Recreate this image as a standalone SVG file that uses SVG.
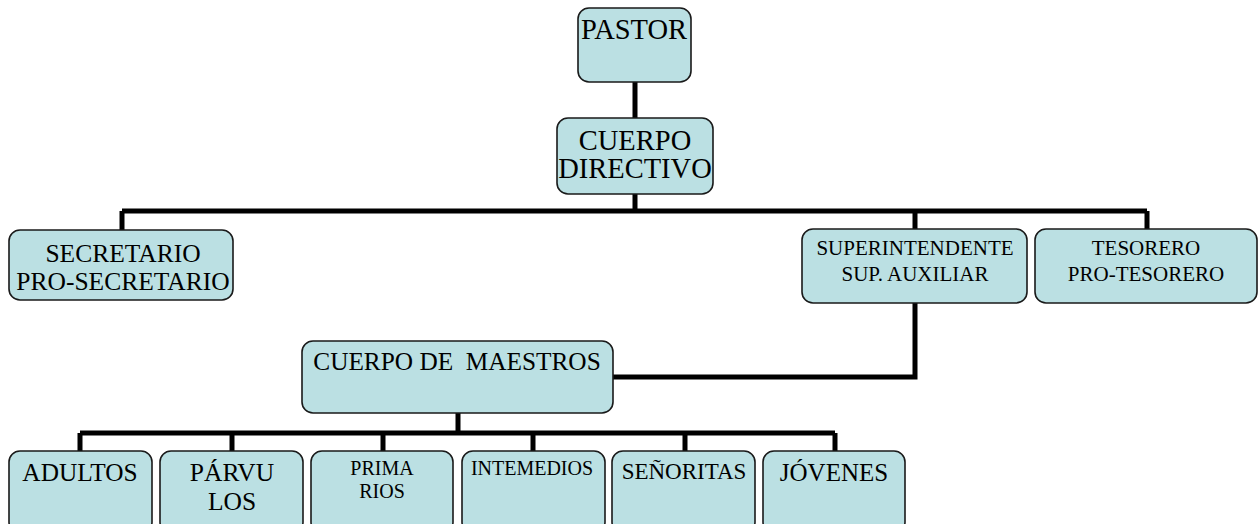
<svg xmlns="http://www.w3.org/2000/svg" width="1258" height="524" viewBox="0 0 1258 524">
<style>
.box{fill:#BBE0E3;stroke:#1a1a1a;stroke-width:1.6}
.t{font-family:"Liberation Serif","Times New Roman",serif;fill:#000;text-anchor:middle}
.c{fill:none;stroke:#000;stroke-width:5}
</style>
<rect width="1258" height="524" fill="#fff"/>
<g id="connectors">
<path class="c" d="M635 82V118M635 194V211M122 211H1147M122 211V230M915 211V229M1147 211V229"/>
<path class="c" d="M915 303V377H613"/>
<path class="c" d="M458 413V433M80 433H835M80 433V451M232 433V451M383 433V451M533 433V451M685 433V451M835 433V451"/>
</g>
<g id="pastor"><rect class="box" x="578" y="8" width="113" height="74" rx="11"/><text class="t" x="634" y="39" font-size="28.5">PASTOR</text></g>
<g id="cuerpo-directivo"><rect class="box" x="557" y="118" width="156" height="76" rx="11"/><text class="t" x="635" y="150" font-size="28.5">CUERPO</text><text class="t" x="635" y="178" font-size="28.5">DIRECTIVO</text></g>
<g id="secretario"><rect class="box" x="9" y="230" width="224" height="70" rx="11"/><text class="t" x="123" y="262" font-size="25.5">SECRETARIO</text><text class="t" x="123" y="290" font-size="25.5">PRO-SECRETARIO</text></g>
<g id="superintendente"><rect class="box" x="802" y="229" width="225" height="74" rx="11"/><text class="t" x="915" y="255" font-size="21">SUPERINTENDENTE</text><text class="t" x="915" y="281" font-size="21">SUP. AUXILIAR</text></g>
<g id="tesorero"><rect class="box" x="1035" y="229" width="222" height="74" rx="11"/><text class="t" x="1146" y="255" font-size="21">TESORERO</text><text class="t" x="1146" y="281" font-size="21">PRO-TESORERO</text></g>
<g id="cuerpo-maestros"><rect class="box" x="302" y="341" width="311" height="72" rx="11"/><text class="t" x="457" y="370" font-size="25.3" xml:space="preserve">CUERPO DE  MAESTROS</text></g>
<g id="adultos"><rect class="box" x="9" y="451" width="143" height="82" rx="11"/><text class="t" x="80" y="481" font-size="25.3">ADULTOS</text></g>
<g id="parvulos"><rect class="box" x="160" y="451" width="143" height="82" rx="11"/><text class="t" x="232" y="481" font-size="25.5">PÁRVU</text><text class="t" x="232" y="510" font-size="25.5">LOS</text></g>
<g id="primarios"><rect class="box" x="311" y="451" width="142" height="82" rx="11"/><text class="t" x="382" y="475" font-size="20">PRIMA</text><text class="t" x="382" y="498" font-size="20">RIOS</text></g>
<g id="intermedios"><rect class="box" x="462" y="451" width="143" height="82" rx="11"/><text class="t" x="532" y="475" font-size="20">INTEMEDIOS</text></g>
<g id="senoritas"><rect class="box" x="612" y="451" width="143" height="82" rx="11"/><text class="t" x="684" y="479" font-size="23">SEÑORITAS</text></g>
<g id="jovenes"><rect class="box" x="763" y="451" width="142" height="82" rx="11"/><text class="t" x="834" y="481" font-size="25">JÓVENES</text></g>
</svg>
